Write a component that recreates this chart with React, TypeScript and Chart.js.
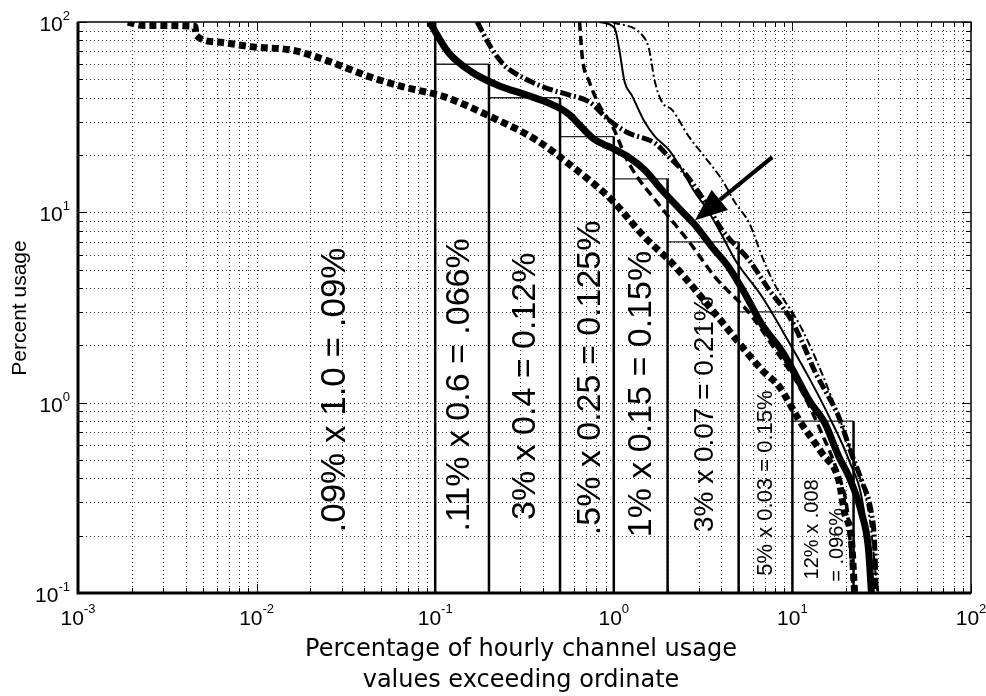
import React, { useEffect, useRef } from 'react';
import { Chart, registerables } from 'chart.js';

Chart.register(...registerables);

// ---------- axes ----------
const xDecades = [-3, -2, -1, 0, 1, 2];
const yDecades = [-1, 0, 1, 2];
const xTitleLines = ['Percentage of hourly channel usage', 'values exceeding ordinate'];
const yTitle = 'Percent usage';

// ---------- bars (usage blocks) ----------
const barEdges = [0.1, 0.2, 0.5, 1, 2, 5, 10, 22];
const barHeights = [60, 40, 25, 15, 7, 3, 0.8];
const leftBlockHeight = 100;

// ---------- curves ----------
const thickSolidX = [0.093, 0.118, 0.16, 0.222, 0.325, 0.418, 0.518, 0.566, 0.667, 0.787, 0.975, 1.21, 1.49, 1.86, 2.32, 2.85, 3.55, 4.43, 5.59, 6.78, 8.79, 10.4, 12.4, 15.2, 18.2, 20.7, 24.4, 26.6, 27.7];
const thickSolidY = [100, 69.5, 54.6, 46.7, 41.3, 38, 34.5, 32.5, 27.7, 24, 21.8, 19.5, 16.7, 13.1, 10.5, 8.58, 6.57, 5.1, 3.55, 2.56, 1.85, 1.4, 1.03, 0.78, 0.52, 0.41, 0.263, 0.174, 0.1];

const lowerDashedX = [0.0019, 0.0023, 0.0045, 0.0046, 0.006, 0.0095, 0.016, 0.025, 0.043, 0.067, 0.113, 0.206, 0.368, 0.59, 0.975, 1.49, 2.12, 3.55, 6.78, 8.46, 10.9, 14.7, 18.2, 19.6, 21.4, 22.3];
const lowerDashedY = [100, 96, 95, 85, 78.5, 74, 71, 62.5, 51.5, 45.5, 40.4, 31.7, 24, 17.3, 11.6, 7.4, 5.4, 3.07, 1.48, 1.21, 0.81, 0.54, 0.39, 0.263, 0.19, 0.1];

const thickDashDotX = [0.172, 0.206, 0.243, 0.313, 0.418, 0.566, 0.73, 0.94, 1.21, 1.7, 2.04, 2.41, 3.12, 4.04, 5.73, 7.43, 9.62, 11.4, 13.4, 16, 18.2, 21.4, 24.4, 27.7, 28.8, 29.5];
const thickDashDotY = [100, 73, 59.4, 50.8, 45, 41.3, 38, 30.5, 26.1, 23.1, 19.5, 16.7, 12, 8.07, 5.6, 3.9, 2.82, 2.06, 1.45, 1.07, 0.84, 0.54, 0.39, 0.263, 0.19, 0.1];

const mediumDashedX = [0.643, 0.667, 0.73, 0.828, 0.975, 1.21, 1.86, 2.64, 3.69, 5.73, 8, 11, 14.5, 18, 20.5, 22];
const mediumDashedY = [100, 64.7, 48.4, 36.6, 28.8, 18.2, 10.5, 7, 4.57, 2.96, 1.9, 1.2, 0.7, 0.42, 0.25, 0.1];

const thinSolidX = [0.828, 1.01, 1.07, 1.15, 1.26, 1.49, 1.7, 2.04, 2.41, 2.85, 3.3, 3.89, 4.79, 6.78, 9.62, 12.4, 16, 20.7, 25, 28];
const thinSolidY = [100, 93, 73, 48.4, 41.3, 29.8, 25, 21.2, 16.7, 12.7, 10.5, 8.07, 5.6, 3.59, 2.06, 1.35, 0.85, 0.5, 0.28, 0.1];

const thinDashDotX = [0.98, 1.44, 1.57, 1.7, 1.86, 2.12, 2.64, 3.24, 4.04, 4.79, 5.73, 6.78, 7.72, 11.4, 16.8, 22, 27, 30];
const thinDashDotY = [100, 85.4, 73, 48.4, 38, 34.5, 24.9, 19.5, 14.8, 11.2, 8.8, 5.82, 4.41, 2.4, 1.03, 0.5, 0.25, 0.1];

// ---------- annotations ----------
const blockLabels = ['.09% x 1.0 = .09%', '.11% x 0.6 = .066%', '3% x 0.4 = 0.12%', '.5% x 0.25 = 0.125%', '1% x 0.15 = 0.15%', '3% x 0.07 = 0.21%', '5% x 0.03 = 0.15%', '12% x .008', '= .096%'];
const blockLabelX = [0.0275, 0.137, 0.32, 0.738, 1.44, 3.24, 7.1, 12.9, 17.9];
const blockLabelY = [1.165, 1.24, 1.22, 1.35, 1.11, 0.87, 0.378, 0.216, 0.179];
const blockLabelSize = [35, 34, 34, 34, 34, 28, 22, 20, 20];

const arrowTail = [7.72, 19.5];
const arrowTip = [2.85, 9.1];

const FONT = '"Liberation Sans", Arial, sans-serif';

function pts(xs: number[], ys: number[]) {
  return xs.map((x, i) => ({ x, y: ys[i] }));
}

function buildEdges() {
  const out: any[] = [];
  barEdges.forEach((e, i) => {
    const left = i === 0 ? leftBlockHeight : barHeights[i - 1];
    const right = i < barHeights.length ? barHeights[i] : 0.1;
    out.push({ x: e, y: 0.1 }, { x: e, y: Math.max(left, right) }, { x: e, y: null });
  });
  return out;
}

function buildTops() {
  const out: any[] = [];
  barHeights.forEach((h, i) => {
    out.push({ x: barEdges[i], y: h }, { x: barEdges[i + 1], y: h }, { x: barEdges[i + 1], y: null });
  });
  return out;
}

const decorPlugin = {
  id: 'decor',
  beforeDatasetsDraw(chart: any) {
    const { ctx, chartArea: a, scales } = chart;
    const xs = scales.x, ys = scales.y;
    ctx.save();
    ctx.fillStyle = '#ffffff';
    ctx.fillRect(a.left, a.top, a.right - a.left, a.bottom - a.top);
    ctx.strokeStyle = 'rgba(0,0,0,0.8)';
    ctx.lineWidth = 1;
    ctx.setLineDash([1, 3]);
    for (let d = -3; d < 2; d++) {
      for (let m = 1; m <= 9; m++) {
        const v = m * Math.pow(10, d);
        if (v <= 0.001 * 1.0001 || v >= 100 * 0.9999) continue;
        const px = Math.round(xs.getPixelForValue(v)) + 0.5;
        ctx.beginPath();
        ctx.moveTo(px, a.top);
        ctx.lineTo(px, a.bottom);
        ctx.stroke();
      }
    }
    for (let d = -1; d < 2; d++) {
      for (let m = 1; m <= 9; m++) {
        const v = m * Math.pow(10, d);
        if (v <= 0.1 * 1.0001 || v >= 100 * 0.9999) continue;
        const py = Math.round(ys.getPixelForValue(v)) + 0.5;
        ctx.beginPath();
        ctx.moveTo(a.left, py);
        ctx.lineTo(a.right, py);
        ctx.stroke();
      }
    }
    ctx.restore();
  },
  afterDatasetsDraw(chart: any) {
    const { ctx, chartArea: a, scales } = chart;
    const xs = scales.x, ys = scales.y;
    ctx.save();

    // block labels (rotated)
    ctx.fillStyle = '#000';
    blockLabels.forEach((t, i) => {
      const px = xs.getPixelForValue(blockLabelX[i]);
      const py = ys.getPixelForValue(blockLabelY[i]);
      ctx.save();
      ctx.translate(px, py);
      ctx.rotate(-Math.PI / 2);
      ctx.font = `${blockLabelSize[i]}px ${FONT}`;
      ctx.textAlign = 'center';
      ctx.textBaseline = 'middle';
      ctx.fillText(t, 0, 0);
      ctx.restore();
    });

    // arrow
    const tx = xs.getPixelForValue(arrowTail[0]), ty = ys.getPixelForValue(arrowTail[1]);
    const hx = xs.getPixelForValue(arrowTip[0]), hy = ys.getPixelForValue(arrowTip[1]);
    const ang = Math.atan2(hy - ty, hx - tx);
    const headLen = 32, headHalf = 13;
    const bx = hx - headLen * Math.cos(ang), by = hy - headLen * Math.sin(ang);
    ctx.strokeStyle = '#000';
    ctx.lineWidth = 4;
    ctx.setLineDash([]);
    ctx.beginPath();
    ctx.moveTo(tx, ty);
    ctx.lineTo(bx, by);
    ctx.stroke();
    ctx.beginPath();
    ctx.moveTo(hx, hy);
    ctx.lineTo(bx + headHalf * Math.sin(ang), by - headHalf * Math.cos(ang));
    ctx.lineTo(bx - headHalf * Math.sin(ang), by + headHalf * Math.cos(ang));
    ctx.closePath();
    ctx.fill();

    // tick marks
    ctx.lineWidth = 1;
    ctx.strokeStyle = '#000';
    for (let d = -3; d <= 2; d++) {
      for (let m = 1; m <= 9; m++) {
        const v = m * Math.pow(10, d);
        if (v < 0.001 * 0.9999 || v > 100 * 1.0001) continue;
        const len = m === 1 ? 9 : 5;
        const px = Math.round(xs.getPixelForValue(v)) + 0.5;
        ctx.beginPath();
        ctx.moveTo(px, a.bottom); ctx.lineTo(px, a.bottom - len);
        ctx.moveTo(px, a.top); ctx.lineTo(px, a.top + len);
        ctx.stroke();
      }
    }
    for (let d = -1; d <= 2; d++) {
      for (let m = 1; m <= 9; m++) {
        const v = m * Math.pow(10, d);
        if (v < 0.1 * 0.9999 || v > 100 * 1.0001) continue;
        const len = m === 1 ? 9 : 5;
        const py = Math.round(ys.getPixelForValue(v)) + 0.5;
        ctx.beginPath();
        ctx.moveTo(a.left, py); ctx.lineTo(a.left + len, py);
        ctx.moveTo(a.right, py); ctx.lineTo(a.right - len, py);
        ctx.stroke();
      }
    }

    // frame
    ctx.lineWidth = 1.5;
    ctx.strokeRect(a.left, a.top, a.right - a.left, a.bottom - a.top);
    ctx.lineWidth = 3;
    ctx.beginPath();
    ctx.moveTo(a.left, a.top);
    ctx.lineTo(a.left, a.bottom);
    ctx.lineTo(a.right, a.bottom);
    ctx.stroke();

    // tick labels
    const bigF = `21px ${FONT}`, supF = `13px ${FONT}`;
    ctx.textBaseline = 'alphabetic';
    ctx.textAlign = 'left';
    xDecades.forEach((d) => {
      const px = xs.getPixelForValue(Math.pow(10, d));
      ctx.font = bigF;
      const w1 = ctx.measureText('10').width;
      ctx.font = supF;
      const w2 = ctx.measureText(String(d)).width;
      const start = px - (w1 + w2) / 2;
      ctx.font = bigF;
      ctx.fillText('10', start, a.bottom + 32);
      ctx.font = supF;
      ctx.fillText(String(d), start + w1, a.bottom + 20);
    });
    yDecades.forEach((d) => {
      const py = ys.getPixelForValue(Math.pow(10, d));
      ctx.font = supF;
      const w2 = ctx.measureText(String(d)).width;
      ctx.font = bigF;
      const w1 = ctx.measureText('10').width;
      const right = a.left - 8;
      ctx.font = bigF;
      ctx.fillText('10', right - w2 - w1, py + 9);
      ctx.font = supF;
      ctx.fillText(String(d), right - w2, py - 2);
    });

    // axis titles
    ctx.font = `24px "DejaVu Sans", ${FONT}`;
    ctx.textAlign = 'center';
    ctx.fillText(xTitleLines[0], 521, 656);
    ctx.fillText(xTitleLines[1], 521, 687);

    ctx.save();
    ctx.translate(20, 308);
    ctx.rotate(-Math.PI / 2);
    ctx.font = `21px ${FONT}`;
    ctx.textAlign = 'center';
    ctx.textBaseline = 'middle';
    ctx.fillText(yTitle, 0, 0);
    ctx.restore();

    ctx.restore();
  },
};

export default function App() {
  const ref = useRef<HTMLCanvasElement | null>(null);
  useEffect(() => {
    document.body.style.margin = '0';
    const canvas = ref.current;
    if (!canvas) return;
    const line = (data: any[], width: number, dash: number[], order = 1, color = '#000', smooth = true) => ({
      data,
      borderColor: color,
      backgroundColor: color,
      borderWidth: width,
      borderDash: dash,
      borderCapStyle: 'butt',
      borderJoinStyle: 'round',
      pointRadius: 0,
      tension: 0,
      cubicInterpolationMode: smooth ? 'monotone' : 'default',
      fill: false,
      spanGaps: false,
      order,
    });
    const chart = new Chart(canvas, {
      type: 'line',
      data: {
        datasets: [
          line(buildTops(), 1.3, [], 10, '#222', false),
          line(buildEdges(), 2.5, [], 9, '#000', false),
          line(pts(lowerDashedX, lowerDashedY), 7, [7, 4], 6),
          line(pts(mediumDashedX, mediumDashedY), 3.5, [9, 5], 5),
          line(pts(thinDashDotX, thinDashDotY), 2, [8, 3, 2, 3], 4),
          line(pts(thinSolidX, thinSolidY), 2, [], 3),
          line(pts(thickDashDotX, thickDashDotY), 5, [11, 3, 2, 3], 2),
          line(pts(thickSolidX, thickSolidY), 7, [], 1),
        ] as any,
      },
      options: {
        responsive: false,
        devicePixelRatio: 1,
        animation: false,
        parsing: true,
        layout: { padding: { left: 78, right: 15, top: 22, bottom: 103 } },
        plugins: { legend: { display: false }, tooltip: { enabled: false } },
        scales: {
          x: { type: 'logarithmic', min: 0.001, max: 100, display: false },
          y: { type: 'logarithmic', min: 0.1, max: 100, display: false },
        },
      } as any,
      plugins: [decorPlugin],
    });
    return () => chart.destroy();
  }, []);
  return (
    <div style={{ width: 986, height: 696, background: '#fff' }}>
      <canvas ref={ref} width={986} height={696} style={{ display: 'block' }} />
    </div>
  );
}
